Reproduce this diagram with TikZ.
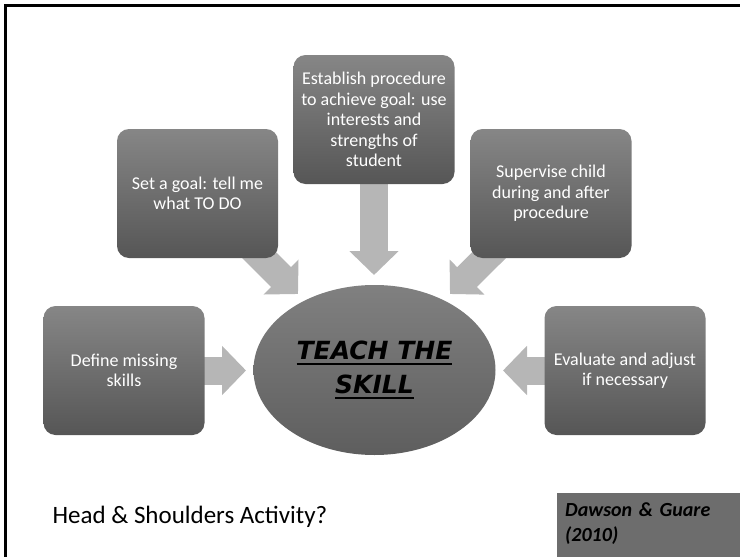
\documentclass[tikz,border=0pt]{standalone}
\usepackage{fontspec}
\setmainfont{Carlito}
\newfontfamily\teachfont{DejaVu Sans}
\newcommand\skillul[1]{\setbox0\hbox{#1}\leavevmode\rlap{\rule[-5pt]{\wd0}{1.8pt}}\box0}
\usetikzlibrary{shapes.geometric,arrows.meta,backgrounds}
\definecolor{boxtop}{RGB}{134,134,134}
\definecolor{boxbot}{RGB}{86,86,86}
\definecolor{ovaltop}{RGB}{128,128,128}
\definecolor{ovalbot}{RGB}{94,94,94}
\definecolor{arrowgrey}{RGB}{182,182,182}
\definecolor{refgrey}{RGB}{109,109,109}
\begin{document}
\begin{tikzpicture}[x=1pt,y=-1pt]
  \tikzstyle{stepbox}=[rounded corners=12pt, top color=boxtop, bottom color=boxbot, text=white,
    minimum width=161pt, minimum height=129pt, inner sep=0pt, align=center,
    font=\fontsize{18}{20.5}\selectfont]
  \tikzstyle{flow}=[line width=28pt, arrowgrey, -{Triangle[length=24pt,width=48pt]}]
  \useasboundingbox (0,0) rectangle (740,557);
  \clip (0,0) rectangle (740,557);
  \draw[line width=3pt] (5.5,5.5) rectangle (780,600);
  \node[stepbox] (define) at (124,370.5) {Define missing\\skills};
  \node[stepbox] (setgoal) at (197.5,193.5) {Set a goal: tell me\\what TO DO};
  \node[stepbox] (establish) at (374,119.5) {Establish procedure\\to achieve goal: use\\interests and\\strengths of\\student};
  \node[stepbox] (supervise) at (551,193.5) {Supervise child\\during and after\\procedure};
  \node[stepbox] (evaluate) at (625,370.5) {Evaluate and adjust\\if necessary};
  \node[ellipse, top color=ovaltop, bottom color=ovalbot, minimum width=242pt, minimum height=170pt,
    align=center, font={\teachfont\bfseries\itshape\fontsize{25}{34}\selectfont}]
    (teach) at (374.5,370) {\skillul{TEACH THE}\\\skillul{SKILL}};
  \node[anchor=base west, font=\fontsize{25}{30}\selectfont] (activity) at (49,523) {Head \& Shoulders Activity?};
  \node[anchor=north west, fill=refgrey, text width=175pt, inner xsep=8pt, inner ysep=10pt, align=left,
    font={\bfseries\itshape\fontsize{20}{25}\selectfont}]
    (source) at (557,493) {Dawson \& Guare\\(2010)\rule[-16pt]{0pt}{1pt}};
  \begin{scope}[on background layer]
    \coordinate (tipa) at (298,294);
    \coordinate (tipb) at (374,275);
    \coordinate (tipc) at (450,294);
    \coordinate (tipd) at (246,370.5);
    \coordinate (tipe) at (503,370.5);
    \draw[flow] (setgoal.center) -- (tipa);
    \draw[flow] (establish.center) -- (tipb);
    \draw[flow] (supervise.center) -- (tipc);
    \draw[flow] (define.center) -- (tipd);
    \draw[flow] (evaluate.center) -- (tipe);
  \end{scope}
\end{tikzpicture}
\end{document}
